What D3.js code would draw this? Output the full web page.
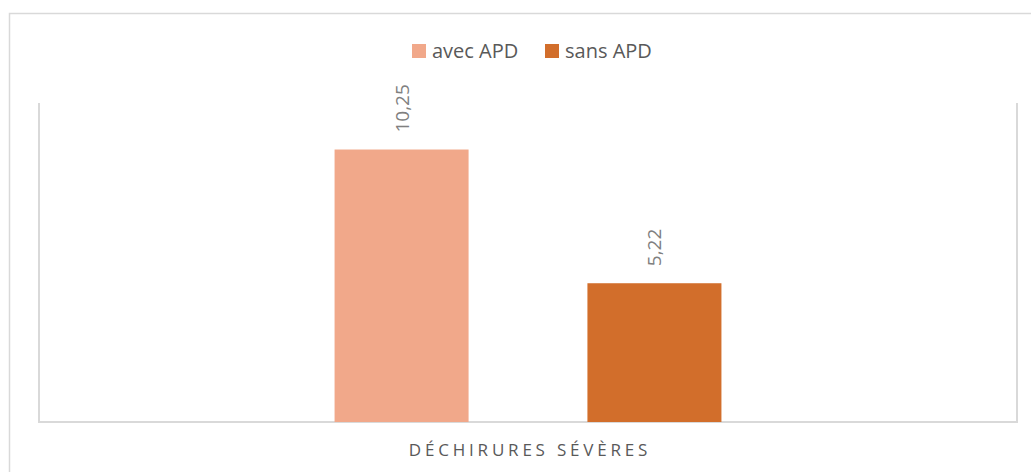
<!DOCTYPE html>
<meta charset="utf-8">
<style>
  body { margin: 0; background: #fff; }
  svg { font-family: "Open Sans", sans-serif; }
  .frame { fill: none; stroke: #d9d9d9; stroke-width: 1.5; }
  .plot-line { stroke: #d9d9d9; stroke-width: 2; fill: none; }
  .value { fill: #808080; font-size: 19px; }
  .legend text { fill: #595959; font-size: 20px; }
  .cat { fill: #595959; font-size: 17px; letter-spacing: 3.8px; }
</style>
<body>
<script src="https://d3js.org/d3.v7.min.js"></script>
<script>

var categories = ["DÉCHIRURES SÉVÈRES"];
var series = ["avec APD", "sans APD"];
var values = [[10.25, 5.22]];
var valueLabels = [["10,25", "5,22"]];
var colors = ["#F1A88A", "#D26E2B"];

var W = 1031, H = 472;
var plot = {left: 39, right: 1017, top: 103, bottom: 422};

var svg = d3.select("body").append("svg")
    .attr("width", W)
    .attr("height", H);

// outer chart frame (runs off the right and bottom edges)
svg.append("rect")
    .attr("class", "frame")
    .attr("x", 9.5).attr("y", 13.5)
    .attr("width", W + 20).attr("height", H + 20);

var x0 = d3.scaleBand()
    .domain(categories)
    .range([plot.left, plot.right])
    .paddingInner(0)
    .paddingOuter(0.764);

var x1 = d3.scaleBand()
    .domain(series)
    .range([0, x0.bandwidth()])
    .paddingInner(0.47)
    .paddingOuter(0);

var y = d3.scaleLinear()
    .domain([0, 12])
    .range([plot.bottom, plot.top]);

// plot area lines: left, right, bottom
svg.append("path")
    .attr("class", "plot-line")
    .attr("d", "M" + plot.left + "," + plot.top + "V" + plot.bottom + "H" + plot.right + "V" + plot.top);

var groups = svg.selectAll(".cat-group")
    .data(categories)
    .enter().append("g")
    .attr("class", "cat-group")
    .attr("transform", function(d) { return "translate(" + x0(d) + ",0)"; });

groups.selectAll("rect")
    .data(function(d, i) { return series.map(function(s, j) { return {s: s, v: values[i][j], lab: valueLabels[i][j], c: colors[j]}; }); })
    .enter().append("rect")
    .attr("x", function(d) { return x1(d.s); })
    .attr("y", function(d) { return y(d.v); })
    .attr("width", x1.bandwidth())
    .attr("height", function(d) { return plot.bottom - y(d.v); })
    .attr("fill", function(d) { return d.c; });

groups.selectAll(".value")
    .data(function(d, i) { return series.map(function(s, j) { return {s: s, v: values[i][j], lab: valueLabels[i][j]}; }); })
    .enter().append("text")
    .attr("class", "value")
    .attr("transform", function(d) {
        return "translate(" + (x1(d.s) + x1.bandwidth() / 2 + 7) + "," + (y(d.v) - 17) + ") rotate(-90)";
    })
    .attr("text-anchor", "start")
    .text(function(d) { return d.lab; });

// category label
svg.selectAll(".cat")
    .data(categories)
    .enter().append("text")
    .attr("class", "cat")
    .attr("x", function(d) { return x0(d) + x0.bandwidth() / 2 + 2; })
    .attr("y", 456)
    .attr("text-anchor", "middle")
    .text(function(d) { return d; });

// legend
var legendX = [412, 545];
var legend = svg.append("g").attr("class", "legend");
var li = legend.selectAll("g")
    .data(series)
    .enter().append("g")
    .attr("transform", function(d, i) { return "translate(" + legendX[i] + ",44)"; });
li.append("rect")
    .attr("width", 14).attr("height", 14)
    .attr("fill", function(d, i) { return colors[i]; });
li.append("text")
    .attr("x", 20).attr("y", 14)
    .text(function(d) { return d; });

</script>
</body>
